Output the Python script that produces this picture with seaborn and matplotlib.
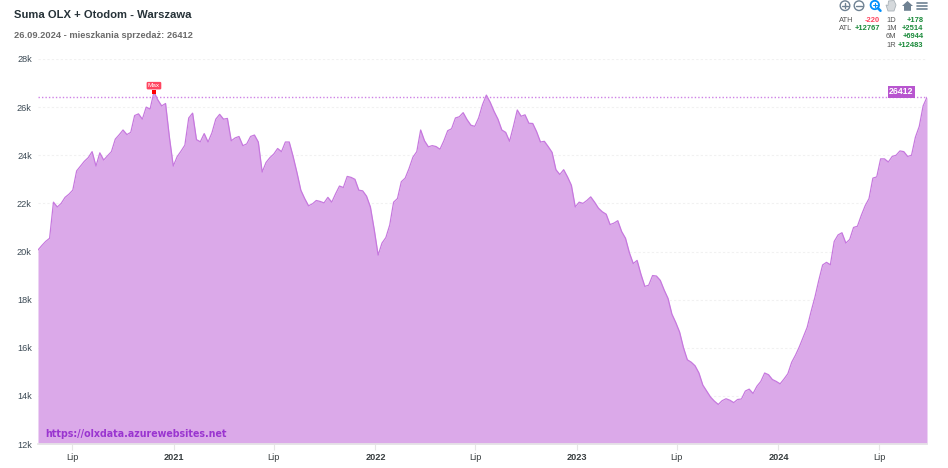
import numpy as np
import pandas as pd
import matplotlib
matplotlib.use("Agg")
import matplotlib.pyplot as plt
import matplotlib.patches as mpatches
import seaborn as sns

# weekly readings (thousands of listings), 30.04.2020 - 26.09.2024
listings_k = [
    20.06, 20.25, 20.42, 20.55, 22.05, 21.85, 22.00, 22.25, 22.38, 22.55,
    23.35, 23.55, 23.75, 23.90, 24.15, 23.55, 24.10, 23.80, 23.98, 24.15,
    24.67, 24.85, 25.05, 24.86, 24.95, 25.65, 25.72, 25.50, 26.00, 25.92,
    26.632, 26.30, 26.05, 26.15, 24.75, 23.55, 23.94, 24.17, 24.42, 25.55,
    25.75, 24.65, 24.56, 24.90, 24.55, 24.93, 25.50, 25.70, 25.50, 25.53,
    24.60, 24.72, 24.78, 24.40, 24.47, 24.78, 24.84, 24.55, 23.30, 23.70,
    23.90, 24.05, 24.28, 24.15, 24.55, 24.55, 23.95, 23.28, 22.55, 22.20,
    21.90, 21.98, 22.12, 22.08, 22.02, 22.25, 22.05, 22.40, 22.72, 22.66,
    23.12, 23.08, 23.00, 22.55, 22.52, 22.30, 21.85, 20.90, 19.85, 20.35,
    20.58, 21.10, 22.05, 22.20, 22.90, 23.05, 23.45, 23.92, 24.15, 25.05,
    24.60, 24.35, 24.40, 24.36, 24.25, 24.60, 25.02, 25.10, 25.55, 25.60,
    25.77, 25.48, 25.25, 25.20, 25.55, 26.10, 26.50, 26.20, 25.82, 25.50,
    25.05, 24.95, 24.58, 25.20, 25.88, 25.62, 25.68, 25.33, 25.32, 24.98,
    24.55, 24.58, 24.36, 24.12, 23.40, 23.20, 23.40, 23.10, 22.75, 21.85,
    22.05, 22.00, 22.12, 22.27, 22.05, 21.80, 21.65, 21.55, 21.12, 21.18,
    21.28, 20.83, 20.55, 19.95, 19.50, 19.63, 19.05, 18.55, 18.60, 19.00,
    18.98, 18.80, 18.40, 18.05, 17.40, 17.05, 16.65, 16.00, 15.50, 15.40,
    15.25, 14.95, 14.45, 14.20, 13.95, 13.78, 13.645, 13.80, 13.88, 13.82,
    13.72, 13.85, 13.87, 14.20, 14.28, 14.10, 14.40, 14.60, 14.95, 14.88,
    14.68, 14.60, 14.50, 14.70, 14.92, 15.40, 15.70, 16.05, 16.45, 16.85,
    17.50, 18.10, 18.80, 19.44, 19.55, 19.45, 20.42, 20.69, 20.78, 20.35,
    20.50, 21.00, 21.05, 21.50, 21.90, 22.20, 23.05, 23.10, 23.85, 23.85,
    23.72, 23.95, 24.00, 24.18, 24.15, 23.95, 24.00, 24.75, 25.20, 26.05,
    26.412,
]
y_ticks = [12, 14, 16, 18, 20, 22, 24, 26, 28]
x_tick_dates = ["2020-07-01", "2021-01-01", "2021-07-01", "2022-01-01", "2022-07-01",
                "2023-01-01", "2023-07-01", "2024-01-01", "2024-07-01"]
x_tick_labels = ["Lip", "2021", "Lip", "2022", "Lip", "2023", "Lip", "2024", "Lip"]
stats_left = [("ATH", "-220"), ("ATL", "+12767")]
stats_right = [("1D", "+178"), ("1M", "+2514"), ("6M", "+6944"), ("1R", "+12483")]

FILL = "#dba9e9"
LINE = "#c678de"
W, H = 948, 468

df = pd.DataFrame({"date": pd.date_range("2020-04-30", periods=len(listings_k), freq="7D"),
                   "k": listings_k})

sns.set_theme(style="white")
plt.rcParams["font.family"] = ["Liberation Sans", "DejaVu Sans"]

fig = plt.figure(figsize=(W / 100, H / 100), dpi=100)
ax = fig.add_axes([38 / W, 1 - 444 / H, (927 - 38) / W, (444 - 59) / H])

ax.fill_between(df["date"], df["k"], 12, color=FILL, lw=0, zorder=2)
sns.lineplot(data=df, x="date", y="k", ax=ax, color=LINE, lw=0.9, zorder=3)

ax.set_xlim(df["date"].iloc[0], df["date"].iloc[-1])
ax.set_ylim(12, 28)
ax.set_xlabel("")
ax.set_ylabel("")
ax.set_yticks(y_ticks)
ax.set_yticklabels([f"{v}k" for v in y_ticks], fontsize=6.6, color="#3c4a55")
ax.set_xticks(pd.to_datetime(x_tick_dates))
ax.set_xticklabels(x_tick_labels, fontsize=6.6, color="#373d3f")
for lab in ax.get_xticklabels():
    if lab.get_text() != "Lip":
        lab.set_fontweight("bold")
ax.tick_params(axis="y", length=0, pad=4.5)
ax.tick_params(axis="x", length=4, width=0.8, color="#e6e6e6", pad=2.5, bottom=True)
ax.grid(axis="y", color="#f1f1f1", lw=0.8, ls=(0, (2, 2)), zorder=1)
for side in ["top", "right", "left"]:
    ax.spines[side].set_visible(False)
ax.spines["bottom"].set_color("#e6e6e6")

# last value line and label
last = df["k"].iloc[-1]
ax.axhline(last, color="#cf82e6", lw=1.0, ls=(0, (1, 1.5)), zorder=4)
ax.text(df["date"].iloc[-1] - pd.Timedelta(days=24), last + 0.22, "26412", fontsize=6.3, fontweight="bold",
        color="white", ha="right", va="center", zorder=6,
        bbox=dict(boxstyle="square,pad=0.18", fc="#b855cf", ec="none"))

# max marker
peak = df.loc[df["k"].idxmax()]
ax.scatter([peak["date"]], [peak["k"]], s=5, color="#ff0000", zorder=6, marker="s", lw=0)
ax.text(peak["date"], peak["k"] + 0.26, "Max", fontsize=4.6, color="white", ha="center", va="center", zorder=6,
        bbox=dict(boxstyle="round,pad=0.2", fc="#ff4560", ec="none"))

fig.text(14 / W, 1 - 15.5 / H, "Suma OLX + Otodom - Warszawa", fontsize=8.1, fontweight="bold",
         color="#263238", va="center")
fig.text(14 / W, 1 - 36 / H, "26.09.2024 - mieszkania sprzedaż: 26412", fontsize=6.65, fontweight="bold",
         color="#6b6b6b", va="center")
fig.text(45 / W, 1 - 434 / H, "https://olxdata.azurewebsites.net", fontsize=6.85, fontweight="bold",
         family="DejaVu Sans", color="#9a35d0", va="center", zorder=10)

# stats table top right
for i, (name, val) in enumerate(stats_left):
    yy = 1 - (20 + i * 8.5) / H
    fig.text(839 / W, yy, name, fontsize=5.4, color="#555555", va="center")
    fig.text(880 / W, yy, val, fontsize=5.4, fontweight="bold", va="center", ha="right",
             color="#ff4560" if val[0] == "-" else "#1a8a3a")
for i, (name, val) in enumerate(stats_right):
    yy = 1 - (20 + i * 8.5) / H
    fig.text(886 / W, yy, name, fontsize=5.4, color="#555555", va="center")
    fig.text(923.5 / W, yy, val, fontsize=5.4, fontweight="bold", va="center", ha="right", color="#1a8a3a")


# toolbar icons, in pixel positions
def px(x, y):
    return (x / W, 1 - y / H)


def circle(x, y, r, col, lw=1.0):
    fig.add_artist(mpatches.Ellipse(px(x, y), 2 * r / W, 2 * r / H, transform=fig.transFigure,
                                    fc="none", ec=col, lw=lw))


def seg(x0, y0, x1, y1, col, lw=1.0):
    fig.add_artist(plt.Line2D([x0 / W, x1 / W], [1 - y0 / H, 1 - y1 / H], color=col, lw=lw,
                              transform=fig.transFigure))


GREY = "#6e8192"
circle(845, 5.7, 4.8, GREY)
seg(842.3, 5.7, 847.7, 5.7, GREY)
seg(845, 3, 845, 8.4, GREY)
circle(859, 5.7, 4.8, GREY)
seg(856.3, 5.7, 861.7, 5.7, GREY)
circle(874.8, 5, 4.2, "#008ffb", 1.3)
seg(877.8, 8, 880.5, 10.8, "#008ffb", 1.8)
seg(873, 5, 876.6, 5, "#008ffb", 0.8)
seg(874.8, 3.2, 874.8, 6.8, "#008ffb", 0.8)
fig.add_artist(mpatches.Polygon([px(888, 11), px(886, 5), px(888, 5.5), px(888.5, 1), px(894, 0.5), px(896, 5), px(894, 11)],
                                closed=True, transform=fig.transFigure, fc="#d5d9dc", ec="#aab2b8", lw=0.6))
fig.add_artist(mpatches.Polygon([px(902, 6), px(907.5, 1), px(913, 6), px(911, 6), px(911, 10.8), px(904, 10.8), px(904, 6)],
                                closed=True, transform=fig.transFigure, fc=GREY, ec="none"))
for yy in [2.7, 5.7, 9]:
    seg(916.5, yy, 927, yy, GREY, 1.2)

fig.savefig("out.png", dpi=100)
